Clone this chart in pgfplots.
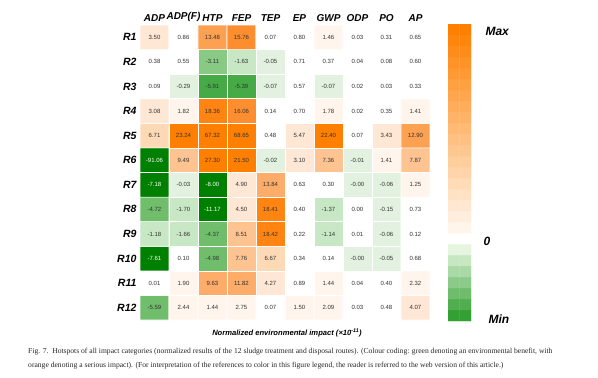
\documentclass[border=0pt]{standalone}
\usepackage{fontspec}
\setmainfont{Liberation Sans}
\newfontfamily\capfont{Liberation Serif}
\usepackage{pgfplots}
\pgfplotsset{compat=1.18}
\usepackage{pgfplotstable}

% x = impact category, y = route (0 = R12 ... 11 = R1), c = colour level
\pgfplotstableread{
x y c
0 0 2
1 0 8
2 0 8
3 0 8
4 0 7
5 0 8
6 0 8
7 0 7
8 0 7
9 0 9
0 1 7
1 1 8
2 1 12
3 1 12
4 1 9
5 1 7
6 1 8
7 1 7
8 1 7
9 1 8
0 2 0
1 2 7
2 2 2
3 2 11
4 2 10
5 2 7
6 2 7
7 2 6
8 2 6
9 2 7
0 3 5
1 3 5
2 3 2
3 3 11
4 3 15
5 3 7
6 3 5
7 3 7
8 3 6
9 3 7
0 4 2
1 4 5
2 4 0
3 4 9
4 4 15
5 4 7
6 4 5
7 4 7
8 4 6
9 4 7
0 5 0
1 5 6
2 5 0
3 5 9
4 5 12
5 5 7
6 5 7
7 5 6
8 5 6
9 5 8
0 6 0
1 6 11
2 6 16
3 6 16
4 6 6
5 6 9
6 6 11
7 6 6
8 6 8
9 6 11
0 7 10
1 7 16
2 7 16
3 7 16
4 7 7
5 7 9
6 7 16
7 7 7
8 7 9
9 7 13
0 8 9
1 8 8
2 8 15
3 8 14
4 8 7
5 8 7
6 8 8
7 8 7
8 8 7
9 8 8
0 9 7
1 9 6
2 9 1
3 9 1
4 9 6
5 9 7
6 9 6
7 9 7
8 9 7
9 9 7
0 10 7
1 10 7
2 10 3
3 10 5
4 10 6
5 10 7
6 10 7
7 10 7
8 10 7
9 10 7
0 11 9
1 11 7
2 11 13
3 11 14
4 11 7
5 11 7
6 11 8
7 11 7
8 11 7
9 11 7
}\cells

% printed values (dark text)
\pgfplotstableread{
x y lab
1 0 2.44
2 0 1.44
3 0 2.75
4 0 0.07
5 0 1.50
6 0 2.09
7 0 0.03
8 0 0.48
9 0 4.07
0 0 -5.59
0 1 0.01
1 1 1.90
2 1 9.63
3 1 11.82
4 1 4.27
5 1 0.89
6 1 1.44
7 1 0.04
8 1 0.40
9 1 2.32
1 2 0.10
2 2 -4.98
3 2 7.76
4 2 6.67
5 2 0.34
6 2 0.14
7 2 -0.00
8 2 -0.05
9 2 0.68
0 3 -1.18
1 3 -1.66
2 3 -4.37
3 3 8.51
4 3 18.42
5 3 0.22
6 3 -1.14
7 3 0.01
8 3 -0.06
9 3 0.12
0 4 -4.72
1 4 -1.70
3 4 4.50
4 4 18.41
5 4 0.40
6 4 -1.37
7 4 0.00
8 4 -0.15
9 4 0.73
1 5 -0.03
3 5 4.90
4 5 13.84
5 5 0.63
6 5 0.30
7 5 -0.00
8 5 -0.06
9 5 1.25
1 6 9.49
2 6 27.30
3 6 21.50
4 6 -0.02
5 6 3.10
6 6 7.36
7 6 -0.01
8 6 1.41
9 6 7.87
0 7 6.71
1 7 23.24
2 7 67.32
3 7 68.65
4 7 0.48
5 7 5.47
6 7 22.40
7 7 0.07
8 7 3.43
9 7 12.90
0 8 3.08
1 8 1.82
2 8 18.36
3 8 16.06
4 8 0.14
5 8 0.70
6 8 1.78
7 8 0.02
8 8 0.35
9 8 1.41
0 9 0.09
1 9 -0.29
2 9 -5.91
3 9 -5.39
4 9 -0.07
5 9 0.57
6 9 -0.07
7 9 0.02
8 9 0.03
9 9 0.33
0 10 0.38
1 10 0.55
2 10 -3.11
3 10 -1.63
4 10 -0.05
5 10 0.71
6 10 0.37
7 10 0.04
8 10 0.08
9 10 0.60
0 11 3.50
1 11 0.86
2 11 13.48
3 11 15.76
4 11 0.07
5 11 0.80
6 11 1.46
7 11 0.03
8 11 0.31
9 11 0.65
}\labs

% printed values on the darkest green cells (white text)
\pgfplotstableread{
x y lab
0 2 -7.61
0 5 -7.18
2 5 -8.00
2 4 -11.17
0 6 -91.06
}\wlabs

\begin{document}
\begin{tikzpicture}
\path[use as bounding box] (0,0) rectangle (598pt,-378pt);

\begin{axis}[
  at={(140pt,-25pt)}, anchor=north west,
  width=290pt, height=295pt, scale only axis,
  xmin=-0.5, xmax=9.5, ymin=-0.5, ymax=11.5,
  axis line style={draw=none},
  major tick length=0pt,
  xtick={0,...,9},
  xticklabels={ADP,ADP(F),HTP,FEP,TEP,EP,GWP,ODP,PO,AP},
  xticklabel pos=upper,
  ytick={0,...,11},
  yticklabels={R12,R11,R10,R9,R8,R7,R6,R5,R4,R3,R2,R1},
  xticklabel style={font=\fontsize{10}{12}\selectfont\bfseries\itshape},
  yticklabel style={font=\fontsize{10.5}{12}\selectfont\bfseries\itshape},
  colormap={cells}{
    rgb255=(0,128,0) rgb255=(70,170,70) rgb255=(112,190,108) rgb255=(136,202,132)
    rgb255=(168,216,162) rgb255=(200,231,196) rgb255=(227,242,224) rgb255=(255,255,255)
    rgb255=(255,245,237) rgb255=(254,231,212) rgb255=(254,217,182) rgb255=(253,196,145)
    rgb255=(253,172,105) rgb255=(252,160,82) rgb255=(253,142,48) rgb255=(255,132,18)
    rgb255=(255,127,0)},
  point meta min=0, point meta max=16,
  clip=false,
]
\addplot[matrix plot*, mesh/cols=10, point meta=explicit,
  shader=faceted, faceted color=white, line width=0.6pt]
  table[x=x, y=y, meta=c] {\cells};

\addplot[only marks, mark=none, point meta=explicit symbolic,
  nodes near coords,
  every node near coord/.append style={anchor=center, inner sep=0pt,
    font=\fontsize{6}{7}\selectfont, text=black!80}]
  table[x=x, y=y, meta=lab] {\labs};

\addplot[only marks, mark=none, point meta=explicit symbolic,
  nodes near coords,
  every node near coord/.append style={anchor=center, inner sep=0pt,
    font=\fontsize{6}{7}\selectfont, text=white}]
  table[x=x, y=y, meta=lab] {\wlabs};
\end{axis}

% colour scale
\begin{axis}[
  at={(448pt,-24pt)}, anchor=north west,
  width=23pt, height=297pt, scale only axis,
  xmin=-0.5, xmax=1.5, ymin=-0.5, ymax=26.5,
  hide axis,
  colormap={cb}{rgb255(0cm)=(50,160,50) rgb255(6cm)=(229,245,224)
    rgb255(7cm)=(255,255,255) rgb255(8cm)=(255,245,235) rgb255(26cm)=(255,127,0)},
  point meta min=0, point meta max=26,
]
\addplot[matrix plot*, mesh/cols=2, point meta=y] coordinates {
(0,0) (1,0) (0,1) (1,1) (0,2) (1,2) (0,3) (1,3) (0,4) (1,4) (0,5) (1,5)
(0,6) (1,6) (0,7) (1,7) (0,8) (1,8) (0,9) (1,9) (0,10) (1,10) (0,11) (1,11)
(0,12) (1,12) (0,13) (1,13) (0,14) (1,14) (0,15) (1,15) (0,16) (1,16)
(0,17) (1,17) (0,18) (1,18) (0,19) (1,19) (0,20) (1,20) (0,21) (1,21)
(0,22) (1,22) (0,23) (1,23) (0,24) (1,24) (0,25) (1,25) (0,26) (1,26)
};
\end{axis}

\node[anchor=west, font=\fontsize{12}{14}\selectfont\bfseries\itshape] at (482pt,-31pt) {Max};
\node[anchor=west, font=\fontsize{12}{14}\selectfont\bfseries\itshape] at (480pt,-241pt) {0};
\node[anchor=west, font=\fontsize{12}{14}\selectfont\bfseries\itshape] at (485pt,-319pt) {Min};

\node[font=\fontsize{7.6}{9}\selectfont\bfseries\itshape] at (287pt,-333pt)
  {Normalized environmental impact (×10\textsuperscript{-11})};

\node[anchor=west, inner sep=0pt, font=\capfont\fontsize{7.6}{9}\selectfont, text=black!85] at (28pt,-352pt)
  {Fig. 7.\ \ Hotspots of all impact categories (normalized results of the 12 sludge treatment and disposal routes). (Colour coding: green denoting an environmental benefit, with};
\node[anchor=west, inner sep=0pt, font=\capfont\fontsize{7.6}{9}\selectfont, text=black!85] at (28pt,-366pt)
  {orange denoting a serious impact). (For interpretation of the references to color in this figure legend, the reader is referred to the web version of this article.)};
\end{tikzpicture}
\end{document}
